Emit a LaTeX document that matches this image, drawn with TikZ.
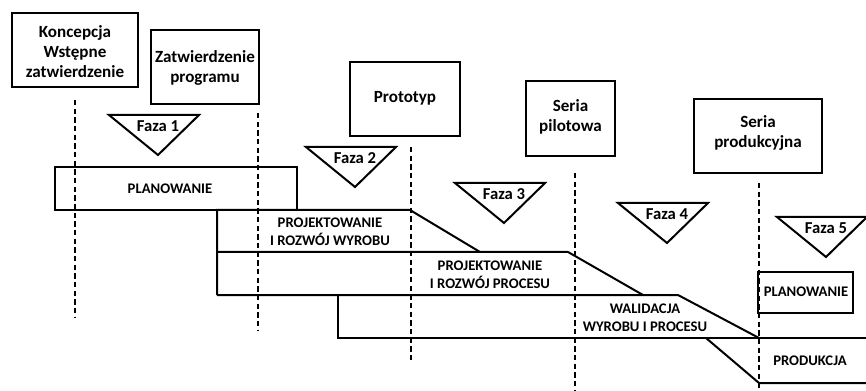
\documentclass[tikz,border=0pt]{standalone}
\usepackage{fontspec}
\setmainfont{Carlito}
\begin{document}
\begin{tikzpicture}[x=0.75pt,y=-0.75pt,line width=1.5pt,
  frame/.style={draw,line width=1.5pt},
  lbl/.style={font=\bfseries\fontsize{12.8}{15}\selectfont,align=center,inner sep=0pt},
  barlbl/.style={font=\bfseries\fontsize{11}{13.5}\selectfont,align=center,inner sep=0pt},
  fazlbl/.style={font=\bfseries\fontsize{12.5}{14}\selectfont,inner sep=0pt},
  milestone/.style={dash pattern=on 4pt off 2.5pt,line width=1.3pt}]
\useasboundingbox (0,0) rectangle (866,391);
% milestone boxes
\draw[frame] (12,13) rectangle (138,87);
\node[lbl] (konc) at (75,52) {Koncepcja\\Wstępne\\zatwierdzenie};
\draw[frame] (151,30) rectangle (259,104);
\node[lbl] (zatw) at (205,68) {Zatwierdzenie\\programu};
\draw[frame] (350,62) rectangle (460,136);
\node[lbl] (proto) at (405,98) {Prototyp};
\draw[frame] (526,81) rectangle (615,156);
\node[lbl] (pilot) at (570.5,117) {Seria\\pilotowa};
\draw[frame] (694,99) rectangle (822,173);
\node[lbl] (prod) at (758,133) {Seria\\produkcyjna};
% phases
\foreach \n/\ax/\ty in {1/158/115, 2/355/147, 3/504/183, 4/667/203, 5/826/217} {
  \draw[line width=1.5pt] (\ax-49,\ty) -- (\ax+41,\ty) -- (\ax,\ty+40) -- cycle;
  \node[fazlbl] (faza\n) at (\ax,\ty+11) {Faza \n};
}
% bars
\draw[frame] (55,167) rectangle (297,210);
\node[barlbl] (plan1) at (170,189) {PLANOWANIE};
\draw (217,295) -- (217,210) -- (410,210) -- (480,252);
\draw (217,252) -- (568,252) -- (643,295);
\draw (217,295) -- (678,295) -- (759,338);
\draw (338,295) -- (338,338) -- (866,338);
\draw (706,338) -- (759,383) -- (866,383);
\node[barlbl] (wyrob) at (330,232) {PROJEKTOWANIE\\I ROZWÓJ WYROBU};
\node[barlbl] (proces) at (490,275) {PROJEKTOWANIE\\I ROZWÓJ PROCESU};
\node[barlbl] (walid) at (645,318) {WALIDACJA\\WYROBU I PROCESU};
\draw[frame] (758,272) rectangle (853,313);
\node[barlbl] (plan2) at (806,292) {PLANOWANIE};
\node[barlbl] (produk) at (810,361) {PRODUKCJA};
% milestone lines
\coordinate (m1a) at (75,100);  \coordinate (m1b) at (75,317);
\coordinate (m2a) at (258,113); \coordinate (m2b) at (258,330);
\coordinate (m3a) at (411,147); \coordinate (m3b) at (411,363);
\coordinate (m4a) at (575,173); \coordinate (m4b) at (575,391);
\coordinate (m5a) at (759,183); \coordinate (m5b) at (759,391);
\foreach \i in {1,...,5} { \draw[milestone] (m\i a) -- (m\i b); }
\end{tikzpicture}
\end{document}
